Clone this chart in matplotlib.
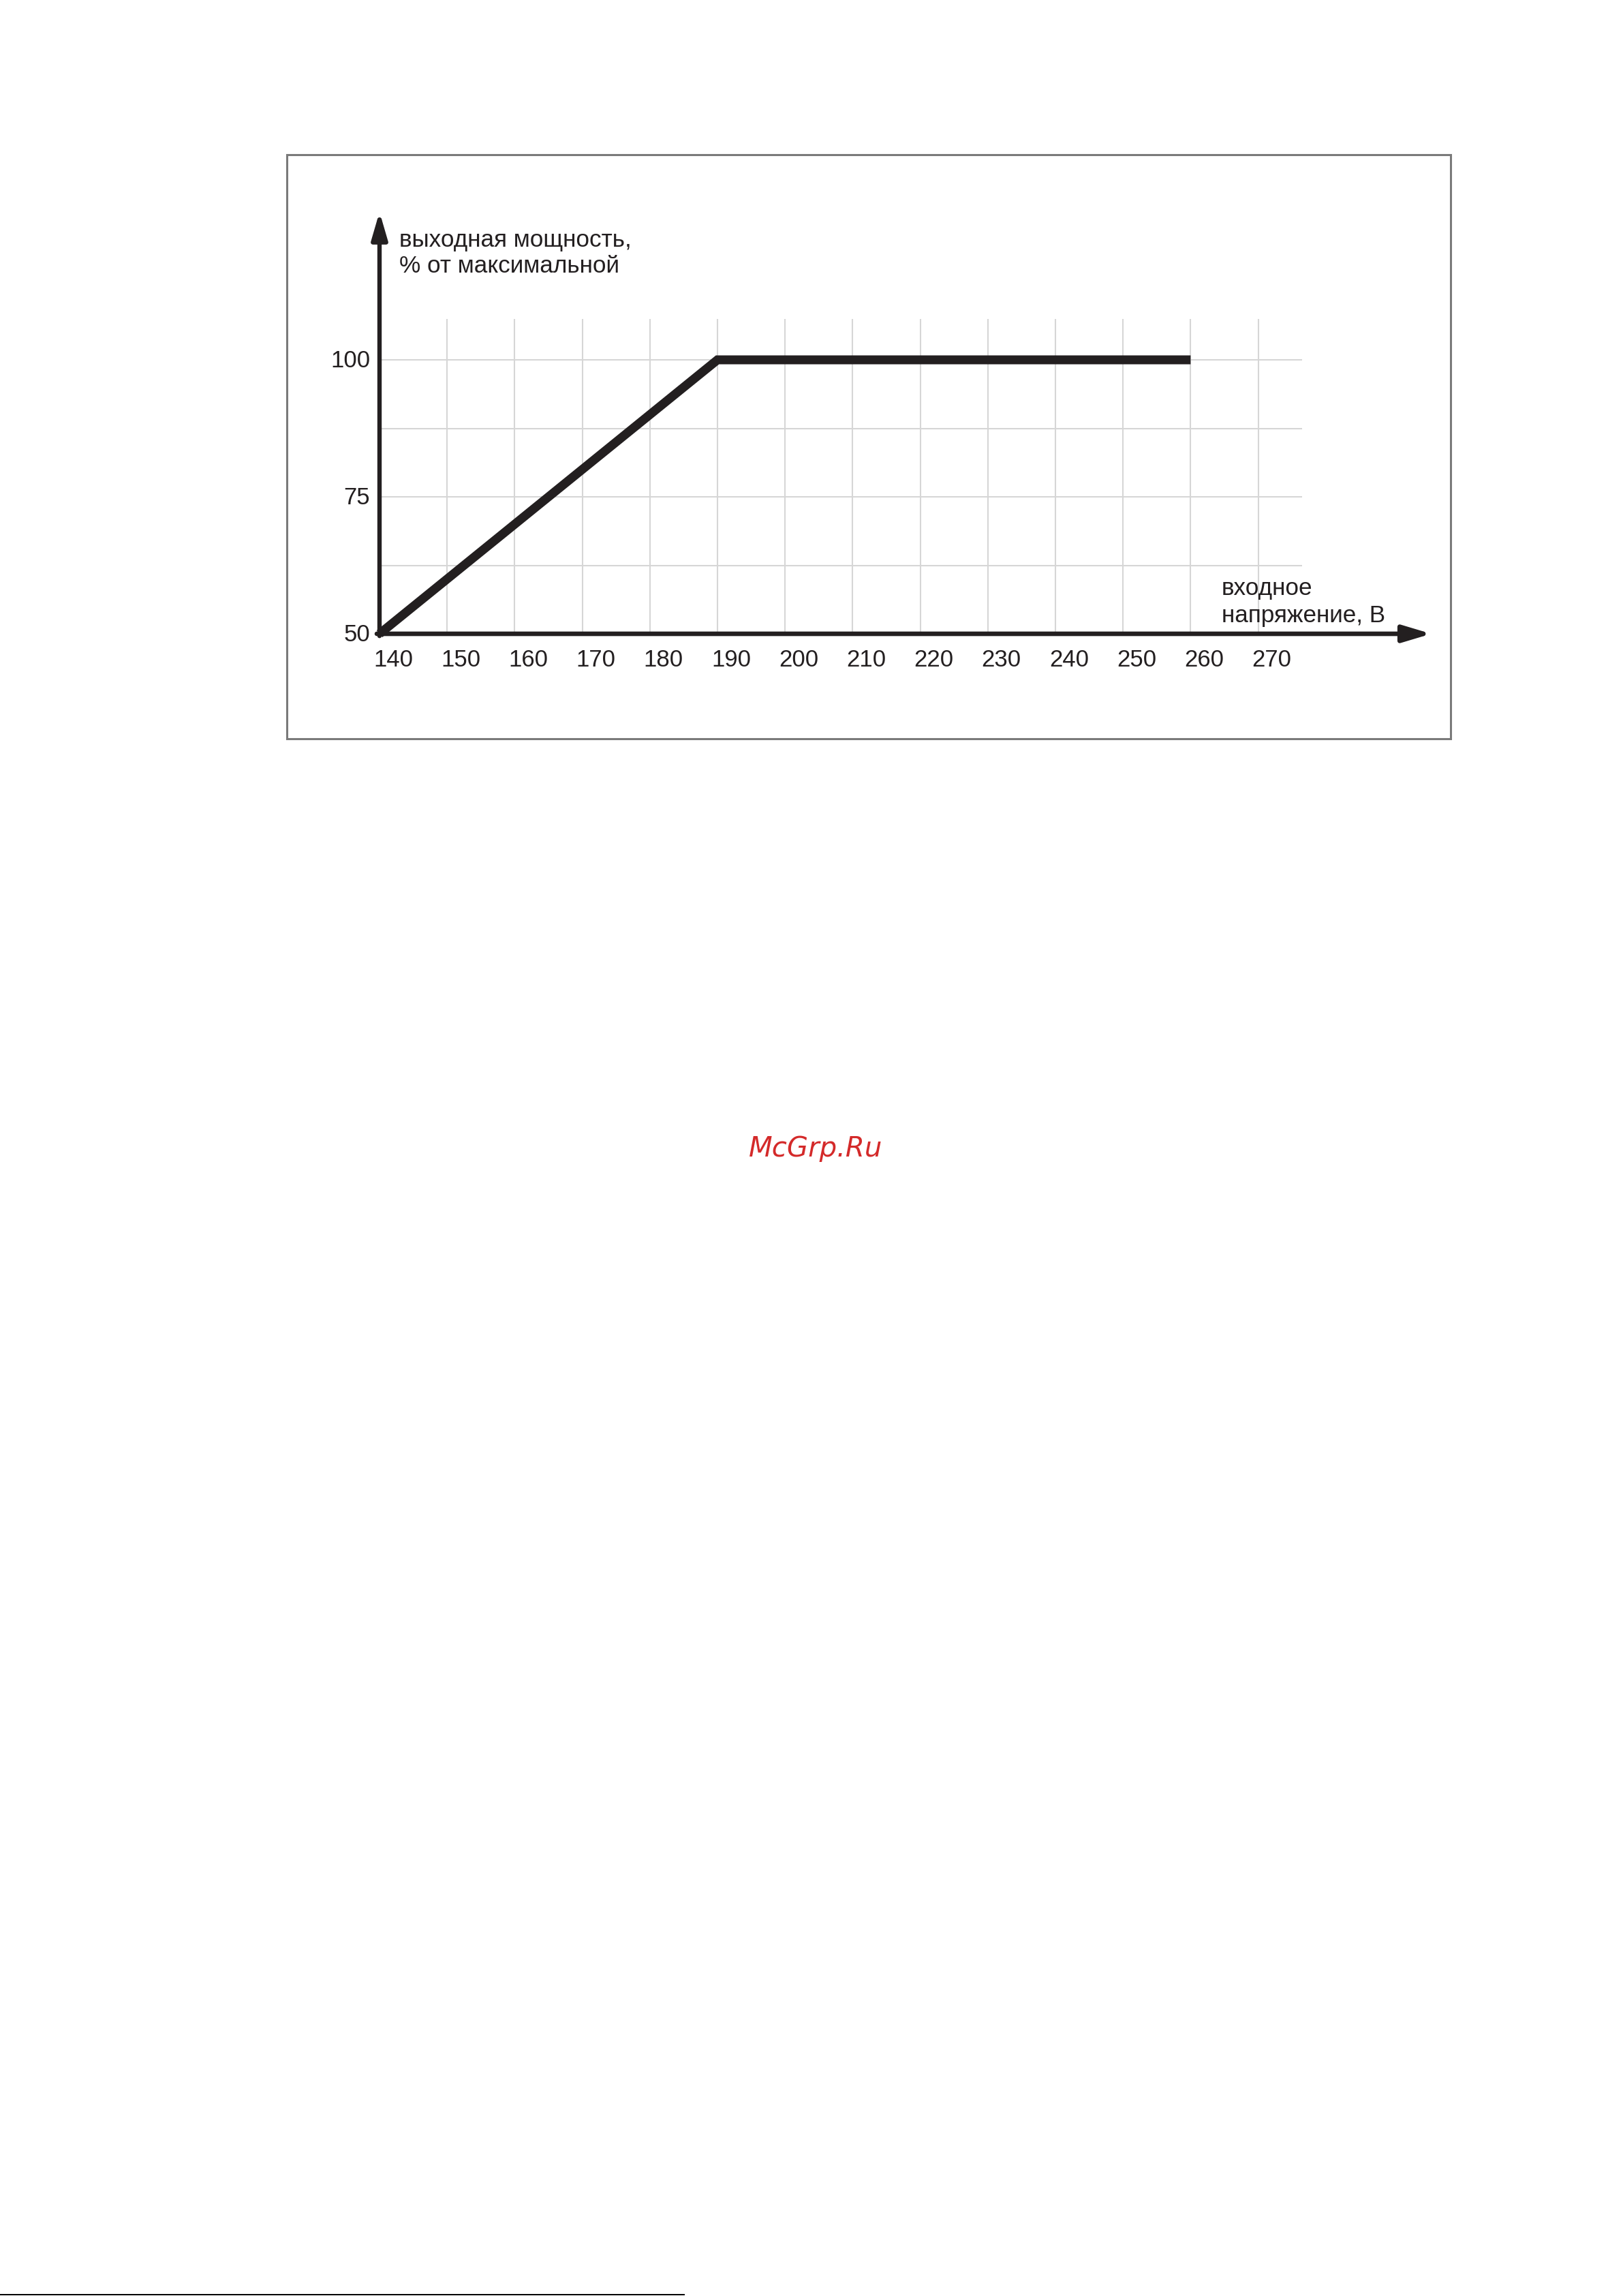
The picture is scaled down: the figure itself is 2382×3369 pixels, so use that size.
import matplotlib
matplotlib.use("Agg")
import matplotlib.pyplot as plt
from matplotlib.transforms import offset_copy
from matplotlib.patches import Rectangle
from matplotlib.lines import Line2D

# ---- data ----
voltage = [140, 190, 260]
power = [50, 100, 100]
x_ticks = [140, 150, 160, 170, 180, 190, 200, 210, 220, 230, 240, 250, 260, 270]
x_tick_labels = ["140", "150", "160", "170", "180", "190", "200", "210", "220",
                 "230", "240", "250", "260", "270"]
y_ticks = [50, 75, 100]
y_tick_labels = ["50", "75", "100"]
y_grid = [62.5, 75, 87.5, 100]
y_title = ["выходная мощность,", "% от максимальной"]
x_title = ["входное", "напряжение, В"]
watermark = "McGrp.Ru"

W, H, DPI = 2382, 3369, 100
TXT = "#231f20"
plt.rcParams['font.family'] = ['Liberation Sans', 'DejaVu Sans']

fig = plt.figure(figsize=(W / DPI, H / DPI), dpi=DPI)
fig.patch.set_facecolor("white")

# frame box
fig.add_artist(Rectangle((421 / W, 1 - 1084 / H), 1708 / W, 857 / H,
                         transform=fig.transFigure, fill=False,
                         edgecolor="#7a7a7a", lw=2.2))
# bottom footer line
fig.add_artist(Line2D([0, 1004 / W], [1 - 3367 / H, 1 - 3367 / H],
                      transform=fig.transFigure, color="black", lw=1.4))

# axes placement: x 140 -> 557px, 9.92 px/V ; y 50 -> 930px, 8.04 px/unit
xl, xr, yb, yt = 125, 300, 40, 130
px0 = 557 - (140 - xl) * 9.92
px1 = 557 + (xr - 140) * 9.92
py0 = 930 + (50 - yb) * 8.04
py1 = 930 - (yt - 50) * 8.04
ax = fig.add_axes([px0 / W, 1 - py0 / H, (px1 - px0) / W, (py0 - py1) / H])
ax.set_xlim(xl, xr)
ax.set_ylim(yb, yt)
ax.axis("off")

grid_c = "#d6d6d6"
ax.vlines(x_ticks[1:], 50, 107.5, colors=grid_c, lw=1.5, zorder=1)
ax.hlines(y_grid, 140, 276.5, colors=grid_c, lw=1.5, zorder=1)

# axes with arrows
ax.annotate("", xy=(295.6, 50), xytext=(139.6, 50),
            arrowprops=dict(arrowstyle="-|>,head_length=2.5,head_width=0.75",
                            mutation_scale=10, lw=4.8, color=TXT,
                            shrinkA=0, shrinkB=0), zorder=3)
ax.annotate("", xy=(140, 127.0), xytext=(140, 49.6),
            arrowprops=dict(arrowstyle="-|>,head_length=2.4,head_width=0.7",
                            mutation_scale=10, lw=4.6, color=TXT,
                            shrinkA=0, shrinkB=0), zorder=3)

# data line
ax.plot(voltage, power, color=TXT, lw=9.4, solid_joinstyle="miter",
        solid_capstyle="butt", zorder=4)

# tick labels
tr_x = offset_copy(ax.transData, fig=fig, x=14.4, y=-27.5, units="points")
for v, lab in zip(x_ticks, x_tick_labels):
    ax.text(v, 50, lab, transform=tr_x, ha="center", va="center",
            fontsize=25, color=TXT)
tr_y = offset_copy(ax.transData, fig=fig, x=-10.0, y=-0.8, units="points")
for v, lab in zip(y_ticks, y_tick_labels):
    ax.text(140, v, lab, transform=tr_y, ha="right", va="center",
            fontsize=25, color=TXT)

# axis titles
ax.text(142.9, 120.65, y_title[0], ha="left", va="baseline", fontsize=25.3, color=TXT)
ax.text(142.9, 115.92, y_title[1], ha="left", va="baseline", fontsize=25.3, color=TXT)
ax.text(264.6, 57.09, x_title[0], ha="left", va="baseline", fontsize=25.3, color=TXT)
ax.text(264.6, 52.11, x_title[1], ha="left", va="baseline", fontsize=25.3, color=TXT)

# watermark
fig.text(1197 / W, 1 - 1697 / H, watermark, ha="center", va="baseline",
         fontsize=29, color="#d42a2a", style="oblique", family="DejaVu Sans")

fig.savefig("out.png", dpi=DPI, facecolor="white")
